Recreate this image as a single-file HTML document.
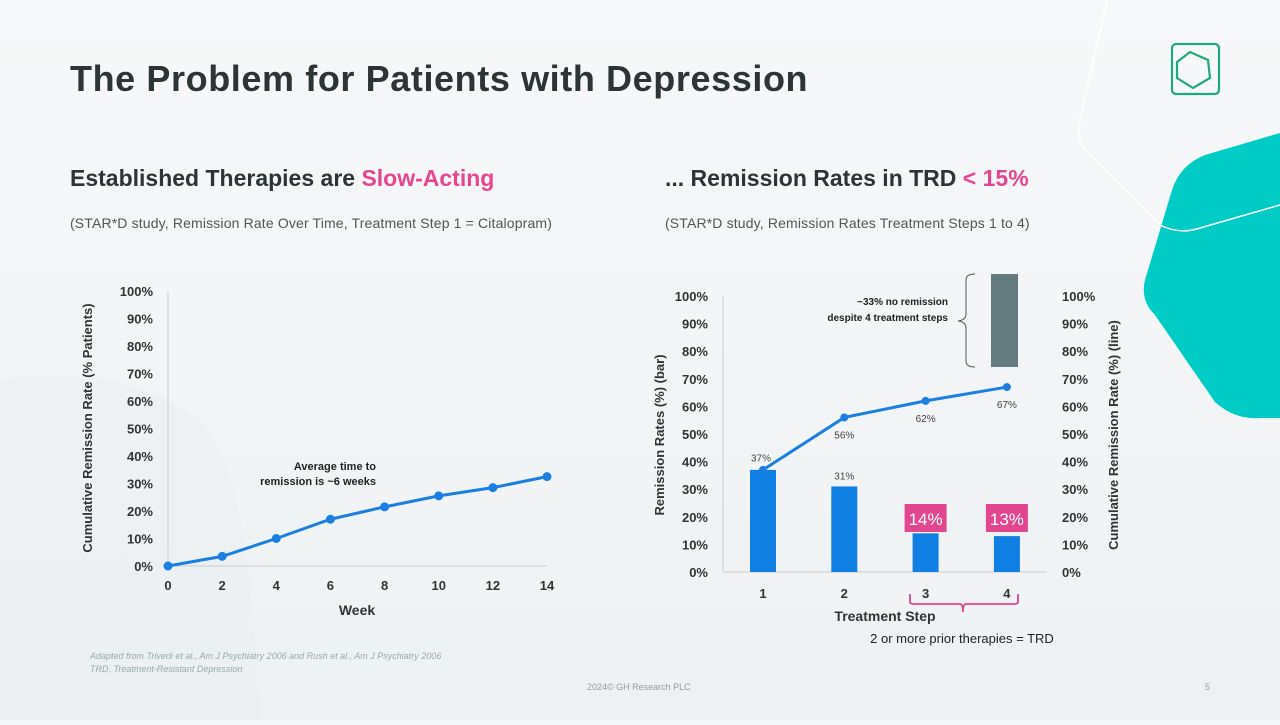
<!DOCTYPE html>
<html><head><meta charset="utf-8"><style>
body{margin:0;width:1280px;height:720px;overflow:hidden;background:#f4f6f7;font-family:"Liberation Sans",sans-serif}
svg text{font-family:"Liberation Sans",sans-serif}
</style></head><body>
<svg width="1280" height="720" viewBox="0 0 1280 720">
<defs><linearGradient id="bg" x1="0" y1="0" x2="0" y2="1"><stop offset="0" stop-color="#f7f8f9"/><stop offset="1" stop-color="#eef1f3"/></linearGradient></defs>
<rect width="1280" height="720" fill="url(#bg)"/>
<path d="M0 380 Q120 360 200 420 Q250 470 260 720 L0 720Z" fill="#e9edf0" opacity="0.4"/>
<path d="M1107 0 L1080 120 Q1075 140 1090 155 L1160 225" stroke="#fff" stroke-width="2" fill="none"/>
<path d="M1280 133 L1205 155 Q1180 165 1172 190 L1145 280 Q1140 300 1155 315 L1215 402 Q1235 420 1260 418 L1280 418Z" fill="#00cbc5"/>
<path d="M1160 225 Q1180 235 1200 228 L1280 205" stroke="#fff" stroke-width="1.5" fill="none"/>
<g stroke="#1fa97c" stroke-width="2.2" fill="none">
<rect x="1172" y="44" width="47" height="50" rx="4"/>
<polygon points="1190,52 1208,60 1210,78 1193,88 1177,78 1177,62"/>
</g>
<text x="70" y="91" font-size="36" font-weight="bold" fill="#2d3436" letter-spacing="0.6">The Problem for Patients with Depression</text>
<text x="70" y="186" font-size="23" font-weight="bold" fill="#2d3436">Established Therapies are <tspan fill="#e6458f">Slow-Acting</tspan></text>
<text x="665" y="186" font-size="23" font-weight="bold" fill="#2d3436">... Remission Rates in TRD <tspan fill="#e6458f">&lt; 15%</tspan></text>
<text x="70" y="228" font-size="14" fill="#555" letter-spacing="0.15">(STAR*D study, Remission Rate Over Time, Treatment Step 1 = Citalopram)</text>
<text x="665" y="228" font-size="14" fill="#555" letter-spacing="0.15">(STAR*D study, Remission Rates Treatment Steps 1 to 4)</text>
<g id="left"></g>
<g id="right"></g>
<text x="90" y="659" font-size="9" font-style="italic" fill="#9aa">Adapted from Trivedi et al., Am J Psychiatry 2006 and Rush et al., Am J Psychiatry 2006</text>
<text x="90" y="672" font-size="9" font-style="italic" fill="#9aa">TRD, Treatment-Resistant Depression</text>
<text x="587" y="690" font-size="9" fill="#999">2024© GH Research PLC</text>
<text x="1205" y="690" font-size="9" fill="#999">5</text>
</svg>
<script>
const weeks=[0,2,4,6,8,10,12,14];
const remission=[0,3.5,10,17,21.5,25.5,28.5,32.5];
const yTicks=[0,10,20,30,40,50,60,70,80,90,100];
const steps=["1","2","3","4"];
const stepRates=[37,31,14,13];
const cumRates=[37,56,62,67];
const ns="http://www.w3.org/2000/svg";
function mk(p,t,a,txt){const e=document.createElementNS(ns,t);for(const k in a)e.setAttribute(k,a[k]);if(txt!==undefined)e.textContent=txt;p.appendChild(e);return e;}
const L=document.getElementById('left');
const lx=w=>168+(w/14)*(547-168), ly=v=>566-(v/100)*275;
mk(L,'line',{x1:168,y1:291,x2:168,y2:566,stroke:'#ccc'});
mk(L,'line',{x1:168,y1:566,x2:547,y2:566,stroke:'#ccc'});
yTicks.forEach(t=>{const e=mk(L,'text',{x:153,y:ly(t)+5,'font-size':13,'font-weight':'bold','text-anchor':'end',fill:'#333'},t+'%');

});
weeks.forEach(w=>{const e=mk(L,'text',{x:lx(w),y:590,'font-size':13,'font-weight':'bold','text-anchor':'middle',fill:'#333'},w);

});
const lp=mk(L,'polyline',{points:weeks.map((w,i)=>lx(w)+','+ly(remission[i])).join(' '),fill:'none',stroke:'#1a7fe0','stroke-width':3});


weeks.forEach((w,i)=>{const c=mk(L,'circle',{cx:lx(w),cy:ly(remission[i]),r:4.5,fill:'#1a7fe0'});

});
mk(L,'text',{x:357,y:615,'font-size':14,'font-weight':'bold','text-anchor':'middle',fill:'#333'},'Week');
mk(L,'text',{x:0,y:0,'font-size':13,'font-weight':'bold','text-anchor':'middle',fill:'#333',transform:'translate(92,428) rotate(-90)'},'Cumulative Remission Rate (% Patients)');
mk(L,'text',{x:376,y:470,'font-size':11,'font-weight':'bold','text-anchor':'end',fill:'#222'},'Average time to');
mk(L,'text',{x:376,y:485,'font-size':11,'font-weight':'bold','text-anchor':'end',fill:'#222'},'remission is ~6 weeks');
const R=document.getElementById('right');
const rx=i=>763+i*81.3, ry=v=>572-(v/100)*276;
mk(R,'line',{x1:723,y1:296,x2:723,y2:572,stroke:'#ccc'});
mk(R,'line',{x1:723,y1:572,x2:1047,y2:572,stroke:'#ccc'});
yTicks.forEach(t=>{const e=mk(R,'text',{x:708,y:ry(t)+5,'font-size':13,'font-weight':'bold','text-anchor':'end',fill:'#333'},t+'%');


const f=mk(R,'text',{x:1062,y:ry(t)+5,'font-size':13,'font-weight':'bold',fill:'#333'},t+'%');

});
steps.forEach((s,i)=>{const e=mk(R,'text',{x:rx(i),y:598,'font-size':13,'font-weight':'bold','text-anchor':'middle',fill:'#333'},s);


const b=mk(R,'rect',{x:rx(i)-13,y:ry(stepRates[i]),width:26,height:572-ry(stepRates[i]),fill:'#0f7fe3'});


if(i<2){mk(R,'text',{x:rx(i)-(i==0?2:0),y:ry(i==0?cumRates[0]+3:stepRates[i]+2.5),'font-size':10,'text-anchor':'middle',fill:'#444'},stepRates[i]+'%');}
else{const g=mk(R,'rect',{x:rx(i)-21,y:504,width:42,height:28,fill:'#e1468e'});


mk(R,'text',{x:rx(i),y:525,'font-size':17,'text-anchor':'middle',fill:'#fff'},stepRates[i]+'%');}
});
const rp=mk(R,'polyline',{points:cumRates.map((v,i)=>rx(i)+','+ry(v)).join(' '),fill:'none',stroke:'#1a7fe0','stroke-width':3});


cumRates.forEach((v,i)=>{const c=mk(R,'circle',{cx:rx(i),cy:ry(v),r:4,fill:'#1a7fe0'});


if(i>0)mk(R,'text',{x:rx(i),y:ry(v)+21,'font-size':10,'text-anchor':'middle',fill:'#444'},v+'%');});
mk(R,'rect',{x:991,y:274,width:27,height:93,fill:'#647b80'});
mk(R,'path',{d:'M975 274 Q966 274 966 280 L966 314 Q966 320 958 321 Q966 322 966 328 L966 361 Q966 367 975 367',fill:'none',stroke:'#555','stroke-width':1});
mk(R,'text',{x:948,y:305,'font-size':10,'font-weight':'bold','text-anchor':'end',fill:'#222'},'~33% no remission');
mk(R,'text',{x:948,y:321,'font-size':10,'font-weight':'bold','text-anchor':'end',fill:'#222'},'despite 4 treatment steps');
mk(R,'path',{d:'M910 594 L910 602 Q910 604 914 604 L960 604 Q963 604 963 612 Q963 604 966 604 L1014 604 Q1018 604 1018 602 L1018 594',fill:'none',stroke:'#e1468e','stroke-width':1.8});
mk(R,'text',{x:885,y:621,'font-size':14,'font-weight':'bold','text-anchor':'middle',fill:'#333'},'Treatment Step');
mk(R,'text',{x:962,y:643,'font-size':13,'text-anchor':'middle',fill:'#222'},'2 or more  prior therapies = TRD');
mk(R,'text',{x:0,y:0,'font-size':13,'font-weight':'bold','text-anchor':'middle',fill:'#333',transform:'translate(664,435) rotate(-90)'},'Remission Rates (%) (bar)');
mk(R,'text',{x:0,y:0,'font-size':13,'font-weight':'bold','text-anchor':'middle',fill:'#333',transform:'translate(1118,435) rotate(-90)'},'Cumulative Remission Rate (%) (line)');
</script>
</body></html>
